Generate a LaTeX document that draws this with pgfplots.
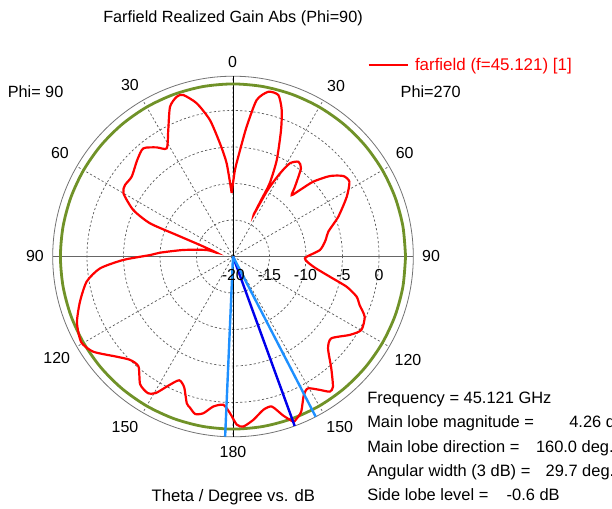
\documentclass[border=0pt]{standalone}
\usepackage{fontspec}
\setmainfont{Liberation Sans}
\usepackage{pgfplots}
\pgfplotsset{compat=1.18}
\usepgfplotslibrary{polar}
\usepackage{pgfplotstable}
\definecolor{cstred}{RGB}{255,0,0}
\definecolor{cstgreen}{RGB}{112,146,40}
\definecolor{cstblue}{RGB}{0,0,235}
\definecolor{cstlight}{RGB}{30,144,255}

% a = theta measured clockwise from top (right half = Phi 270, left half = Phi 90), g = gain in dB
\pgfplotstableread{
a g
-1.2 -11.3
1.3 -8.15
3.8 -5.38
6.0 -2.12
8.6 1.68
12.1 3.08
15.7 2.97
18.4 1.15
20.8 -1.47
24.4 -5.48
26.6 -8.77
26.5 -11.4
26.3 -13.6
27.5 -9.8
29.5 -6.9
31.4 -5.04
34.6 -4.23
37.6 -4.74
41.6 -7.21
43.7 -8.36
45.2 -7.07
47.0 -4.96
50.3 -2.74
53.9 -1.29
57.3 -1.05
62.3 -2.4
69.3 -4.58
75.4 -6.51
80.0 -7.12
85.7 -8.05
91.4 -10.14
97.2 -8.9
101.8 -6.44
104.9 -3.89
108.0 -2.19
111.0 -1.42
114.6 -0.16
119.8 0.26
123.9 -0.74
129.8 -2.48
134.0 -1.9
138.7 0.4
142.5 2.49
144.4 2.77
147.0 1.78
150.4 0.78
152.9 1.3
156.3 3.23
159.0 3.97
160.0 4.05
162.5 2.84
165.5 1.23
168.8 1.41
172.9 2.55
176.5 3.33
178.7 3.05
181.1 1.47
183.7 0.36
187.5 0.73
190.7 1.85
193.5 2.19
196.0 1.5
197.5 1.07
200.5 -0.89
203.5 -1.51
206.5 -0.27
209.5 1.5
212.0 2.05
216.0 1.64
220.7 -0.14
224.9 -0.01
229.5 1.1
235.7 3.15
240.5 3.88
247.0 3.22
253.6 1.85
260.3 0.33
264.9 -1.71
268.2 -4.96
271.0 -8.63
273.0 -10.0
277.5 -13.15
283.9 -16.3
283.0 -17.7
289.2 -15.21
290.9 -11.74
291.8 -7.75
295.0 -4.93
300.0 -2.66
303.5 -2.26
308.2 -2.33
315.2 -1.38
320.3 -0.75
325.0 -1.75
328.5 -2.62
332.9 -0.53
337.2 2.26
340.6 3.21
342.9 3.15
346.7 1.56
350.4 -1.04
353.4 -4.38
356.1 -7.21
358.8 -11.3
}\gaindata

\begin{document}
\begin{tikzpicture}
\begin{polaraxis}[
  at={(233bp,-256.5bp)}, anchor=origin,
  scale only axis, width=360.6bp, height=360.6bp,
  xmin=0, xmax=360, ymin=0, ymax=24.7,
  xtick={0,30,...,330}, ytick={5,10,15,20},
  xticklabels={}, yticklabels={},
  major tick length=0pt,
  grid=major,
  major grid style={black!65, line width=0.7bp, dash pattern=on 2.2bp off 2.2bp},
  axis line style={black!55, line width=0.8bp},
  clip=false,
]
\draw[black!60, line width=1bp] (axis cs:0,24.7) -- (axis cs:180,24.7);
\draw[black, line width=0.8bp] (axis cs:90,24.7) -- (axis cs:270,24.7);
% main lobe magnitude circle
\addplot[cstgreen, line width=2.8bp, smooth] coordinates {
(0,23.64) (10,23.64) (20,23.64) (30,23.64) (40,23.64) (50,23.64) (60,23.64) (70,23.64) (80,23.64)
(90,23.64) (100,23.64) (110,23.64) (120,23.64) (130,23.64) (140,23.64) (150,23.64) (160,23.64) (170,23.64)
(180,23.64) (190,23.64) (200,23.64) (210,23.64) (220,23.64) (230,23.64) (240,23.64) (250,23.64) (260,23.64)
(270,23.64) (280,23.64) (290,23.64) (300,23.64) (310,23.64) (320,23.64) (330,23.64) (340,23.64) (350,23.64) (360,23.64)};
% farfield
\addplot[cstred, line width=2.2bp, smooth, tension=0.4] table[x expr={90-\thisrow{a}}, y expr={\thisrow{g}+20}] {\gaindata};
% main lobe direction (160 deg) and 3 dB width
\addplot[cstblue, line width=2.4bp] coordinates {(-70,0) (-70,24.7)};
\addplot[cstlight, line width=2.4bp] coordinates {(-62.7,0) (-62.7,24.7)};
\addplot[cstlight, line width=2.4bp] coordinates {(-92.5,0) (-92.5,24.7)};
\end{polaraxis}

\begin{scope}[every node/.style={inner sep=0pt, outer sep=0pt}]
% title and labels
\node[anchor=base, font=\fontsize{16.3}{19}\selectfont] at (233bp,-22.5bp) {Farfield Realized Gain Abs (Phi=90)};
\node[anchor=base west, font=\fontsize{16.3}{19}\selectfont] at (7.8bp,-97bp) {Phi= 90};
\node[anchor=base west, font=\fontsize{16.3}{19}\selectfont] at (400.7bp,-97bp) {Phi=270};
% legend
\draw[cstred, line width=2.2bp] (368.5bp,-65bp) -- (408bp,-65bp);
\node[anchor=base west, text=cstred, font=\fontsize{17}{20}\selectfont] at (415bp,-70.5bp) {farfield (f=45.121) [1]};
% angle labels
\begin{scope}[font=\fontsize{16}{19}\selectfont]
\node at (232.5bp,-61.7bp) {0};
\node at (130bp,-85bp) {30};
\node at (336bp,-86bp) {30};
\node at (60bp,-153.3bp) {60};
\node at (404.7bp,-153.3bp) {60};
\node at (35bp,-256bp) {90};
\node at (431bp,-256bp) {90};
\node at (56.7bp,-358bp) {120};
\node at (408bp,-360bp) {120};
\node at (125bp,-426.7bp) {150};
\node at (339.7bp,-426.7bp) {150};
\node at (233bp,-452bp) {180};
% radial labels
\node at (233.3bp,-275bp) {-20};
\node at (269.5bp,-275bp) {-15};
\node at (305.5bp,-275bp) {-10};
\node at (343.5bp,-275bp) {-5};
\node at (379bp,-275bp) {0};
\end{scope}
% bottom label
\node[anchor=base, font=\fontsize{16.7}{20}\selectfont] at (233.3bp,-501.7bp) {Theta / Degree vs. dB};
% info block
\begin{scope}[font=\fontsize{16.5}{20}\selectfont]
\node[anchor=base west] at (367.3bp,-403.3bp) {Frequency = 45.121 GHz};
\node[anchor=base west] at (367.3bp,-427.7bp) {Main lobe magnitude =};
\node[anchor=base west] at (569.3bp,-427.7bp) {4.26 dB};
\node[anchor=base west] at (367.3bp,-452.1bp) {Main lobe direction =};
\node[anchor=base west] at (536bp,-452.1bp) {160.0 deg.};
\node[anchor=base west] at (367.3bp,-476.5bp) {Angular width (3 dB) =};
\node[anchor=base west] at (545.7bp,-476.5bp) {29.7 deg.};
\node[anchor=base west] at (367.3bp,-500.9bp) {Side lobe level =};
\node[anchor=base west] at (506.7bp,-500.9bp) {-0.6 dB};
\end{scope}
\end{scope}
\pgfresetboundingbox
\path[use as bounding box] (0,0) rectangle (612bp,-509bp);
\end{tikzpicture}
\end{document}
